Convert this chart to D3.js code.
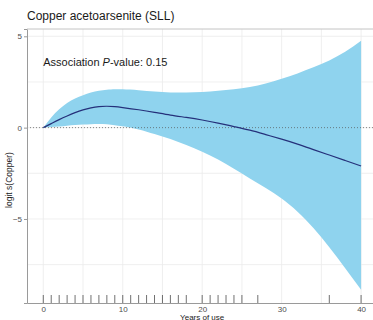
<!DOCTYPE html>
<html>
<head>
<meta charset="utf-8">
<script src="https://cdn.jsdelivr.net/npm/d3@7"></script>
<style>
  body { margin: 0; background: #fff; }
  svg text { font-family: "Liberation Sans", Arial, Helvetica, sans-serif; }
</style>
</head>
<body>
<div id="chart"></div>
<script>
// spline fit: years of use vs logit s(Copper)
var years = [0, 1, 2, 3, 4, 5, 6, 7, 8, 9, 10, 12, 14, 16, 18, 20, 22, 24, 26, 28, 30, 32, 34, 36, 38, 40];
var fit   = [0, 0.22, 0.44, 0.64, 0.82, 0.97, 1.08, 1.15, 1.17, 1.15, 1.1, 0.98, 0.84, 0.69, 0.56, 0.42, 0.25, 0.06, -0.14, -0.38, -0.63, -0.9, -1.2, -1.5, -1.8, -2.1];
var upper = [0, 0.55, 1.0, 1.35, 1.6, 1.78, 1.92, 2.02, 2.08, 2.1, 2.1, 2.05, 1.98, 1.93, 1.92, 1.95, 2.02, 2.1, 2.22, 2.42, 2.68, 2.97, 3.3, 3.68, 4.15, 4.75];
var lower = [0, 0.03, 0.06, 0.1, 0.14, 0.17, 0.19, 0.2, 0.18, 0.13, 0.07, -0.1, -0.35, -0.62, -0.95, -1.32, -1.75, -2.25, -2.78, -3.3, -3.88, -4.6, -5.5, -6.55, -7.7, -8.87];
// observed years (rug)
var rugYears = [0, 1, 2, 3, 4, 5, 6, 7, 8, 9, 10, 11, 12, 13, 14, 15, 16, 17, 18, 20, 21, 22, 23, 24, 25, 27, 36, 40];
var xTicks = [0, 10, 20, 30, 40];
var xMinor = [5, 15, 25, 35];
var yTicks = [5, 0, -5];
var yMinor = [2.5, -2.5, -7.5];

var margin = { top: 29, right: 0, bottom: 17, left: 27 },
  width = 373 - margin.left - margin.right,
  height = 320 - margin.top - margin.bottom;

var x = d3.scaleLinear().domain([-2.05, 41.5]).range([0, width]);
var y = d3.scaleLinear().domain([-9.6, 5.4]).range([height, 0]);

var root = d3.select("#chart").append("svg")
  .attr("width", 373)
  .attr("height", 320);

// title
root.append("text")
  .attr("x", 27)
  .attr("y", 20)
  .attr("font-size", 12)
  .attr("fill", "#1a1a1a")
  .text("Copper acetoarsenite (SLL)");

var svg = root.append("g")
  .attr("transform", "translate(" + margin.left + "," + margin.top + ")");

// grid
svg.selectAll(".gx").data(xTicks.concat(xMinor)).enter().append("line")
  .attr("x1", d => x(d)).attr("x2", d => x(d))
  .attr("y1", 0).attr("y2", height)
  .attr("stroke", "#ebebeb").attr("stroke-width", 0.8);
svg.selectAll(".gy").data(yTicks.concat(yMinor)).enter().append("line")
  .attr("y1", d => y(d)).attr("y2", d => y(d))
  .attr("x1", 0).attr("x2", width)
  .attr("stroke", "#ebebeb").attr("stroke-width", 0.8);

var data = years.map((d, i) => ({ yr: d, fit: fit[i], lo: lower[i], hi: upper[i] }));

// confidence band
svg.append("path")
  .datum(data)
  .attr("fill", "#8fd3ee")
  .attr("d", d3.area()
    .curve(d3.curveNatural)
    .x(d => x(d.yr))
    .y0(d => y(d.lo))
    .y1(d => y(d.hi)));

// zero reference
svg.append("line")
  .attr("x1", 0).attr("x2", width)
  .attr("y1", y(0)).attr("y2", y(0))
  .attr("stroke", "#555")
  .attr("stroke-width", 0.7)
  .attr("stroke-dasharray", "1,2");

// fitted curve
svg.append("path")
  .datum(data)
  .attr("fill", "none")
  .attr("stroke", "#25307a")
  .attr("stroke-width", 1.2)
  .attr("d", d3.line()
    .curve(d3.curveNatural)
    .x(d => x(d.yr))
    .y(d => y(d.fit)));

// rug
svg.selectAll(".rug").data(rugYears).enter().append("line")
  .attr("x1", d => x(d)).attr("x2", d => x(d))
  .attr("y1", height).attr("y2", height - 8)
  .attr("stroke", "#333").attr("stroke-width", 0.7);

// annotation
var ann = svg.append("text")
  .attr("x", x(0))
  .attr("y", y(3.35))
  .attr("font-size", 11)
  .attr("fill", "#1a1a1a");
ann.append("tspan").text("Association ");
ann.append("tspan").attr("font-style", "italic").text("P");
ann.append("tspan").text("-value: 0.15");

// axes
var xAxis = d3.axisBottom(x).tickValues(xTicks).tickSize(0).tickPadding(3);
var yAxis = d3.axisLeft(y).tickValues(yTicks).tickSize(3).tickPadding(2);

var gx = svg.append("g")
  .attr("transform", "translate(0," + height + ")")
  .call(xAxis);
var gy = svg.append("g").call(yAxis);

[gx, gy].forEach(function (g) {
  g.select(".domain").attr("stroke", "#9a9a9a").attr("stroke-width", 1);
  g.selectAll(".tick line").attr("stroke", "#9a9a9a");
  g.selectAll(".tick text").attr("font-size", 8).attr("fill", "#4d4d4d")
    .attr("font-family", "Liberation Sans, Arial, sans-serif");
});

// top border
svg.append("line")
  .attr("x1", 0).attr("x2", width)
  .attr("y1", 0).attr("y2", 0)
  .attr("stroke", "#c4c4c4").attr("stroke-width", 1);

// axis titles
root.append("text")
  .attr("x", margin.left + x(20))
  .attr("y", 319.5)
  .attr("text-anchor", "middle")
  .attr("font-size", 8)
  .attr("fill", "#1a1a1a")
  .text("Years of use");

root.append("text")
  .attr("transform", "translate(12," + (margin.top + height / 2 + 14) + ") rotate(-90)")
  .attr("text-anchor", "middle")
  .attr("font-size", 8.5)
  .attr("fill", "#1a1a1a")
  .text("logit s(Copper)");
</script>
</body>
</html>
